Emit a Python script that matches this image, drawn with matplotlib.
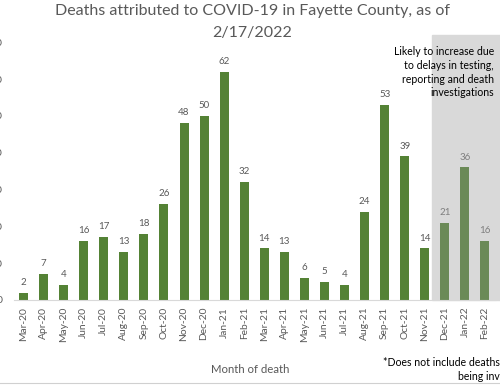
import matplotlib.pyplot as plt
from matplotlib.patches import Rectangle

plt.rcParams['font.family'] = ['Lato', 'DejaVu Sans']

months = ['Mar-20', 'Apr-20', 'May-20', 'Jun-20', 'Jul-20', 'Aug-20', 'Sep-20',
          'Oct-20', 'Nov-20', 'Dec-20', 'Jan-21', 'Feb-21', 'Mar-21', 'Apr-21',
          'May-21', 'Jun-21', 'Jul-21', 'Aug-21', 'Sep-21', 'Oct-21', 'Nov-21',
          'Dec-21', 'Jan-22', 'Feb-22']
deaths = [2, 7, 4, 16, 17, 13, 18, 26, 48, 50, 62, 32, 14, 13, 6, 5, 4, 24,
          53, 39, 14, 21, 36, 16]
n_recent = 3  # last months likely to increase

fig = plt.figure(figsize=(5, 3.85), dpi=100)
ax = fig.add_axes([0.027, 0.221, 0.963, 0.688])

x = range(len(months))
split = len(months) - n_recent
colors = ['#548235'] * split + ['#6b8a57'] * n_recent

# shaded region for recent months
ax.add_patch(Rectangle((split - 0.65, 0), 5, 72, color='#d9d9d9', zorder=0,
                       clip_on=False))

bars = ax.bar(x, deaths, width=0.45, color=colors, zorder=2)
for i, (b, v) in enumerate(zip(bars, deaths)):
    ax.text(b.get_x() + b.get_width() / 2, v + 1.6, str(v), ha='center',
            va='bottom', fontsize=7,
            color='#595959' if i < split else '#7f7f7f')

ax.set_xlim(-0.5, len(months) - 0.5)
ax.set_ylim(0, 72)
ax.set_yticks(range(0, 71, 10))
ax.set_xticks(list(x))
ax.set_xticklabels(months, rotation=90, fontsize=7.4, color='#595959')
ax.tick_params(axis='y', length=0, pad=8, labelsize=7.5, labelcolor='#595959')
ax.tick_params(axis='x', length=0, pad=5)
for s in ['top', 'right', 'left']:
    ax.spines[s].set_visible(False)
ax.spines['bottom'].set_color('#d9d9d9')

fig.text(0.505, 0.99, 'Deaths attributed to COVID-19 in Fayette County, as of\n2/17/2022',
         ha='center', va='top', fontsize=11.5, color='#595959', linespacing=1.75)
fig.text(0.5, 0.04, 'Month of death', ha='center', va='center', fontsize=8.2,
         color='#595959')
fig.text(0.988, 0.88, 'Likely to increase due\nto delays in testing,\nreporting and death\ninvestigations',
         ha='right', va='top', fontsize=7.6, color='#000000', linespacing=1.3)
fig.text(0.766, 0.058, '*Does not include deaths currently', ha='left',
         va='center', fontsize=7.6, color='#000000')
fig.text(1.084, 0.022, 'being investigated', ha='right', va='center',
         fontsize=7.6, color='#000000')

fig.add_artist(plt.Line2D([0, 1], [0.005, 0.005], color='#d0d0d0', lw=0.8))

fig.savefig('out.png', dpi=100)
